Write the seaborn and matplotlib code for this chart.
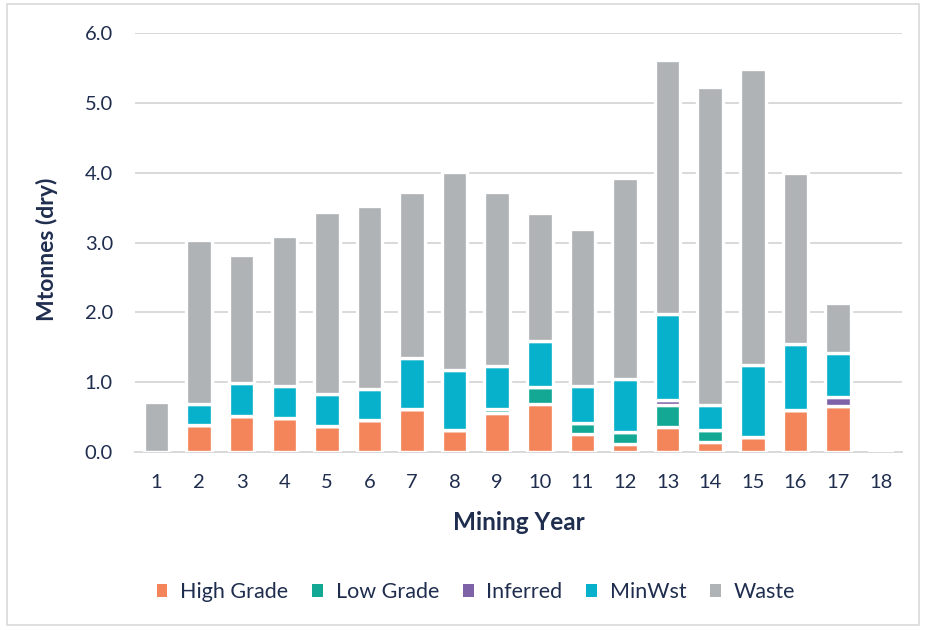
import seaborn as sns
import pandas as pd
import matplotlib.pyplot as plt
from matplotlib.patches import Patch, Rectangle

years = [str(y) for y in range(1, 19)]
high_grade = [0.00, 0.385, 0.52, 0.49, 0.37, 0.455, 0.62, 0.31, 0.555, 0.69, 0.26, 0.12, 0.355, 0.15, 0.21, 0.595, 0.665, 0.0]
low_grade = [0.00, 0.00, 0.00, 0.00, 0.00, 0.00, 0.00, 0.00, 0.065, 0.24, 0.16, 0.16, 0.32, 0.17, 0.00, 0.00, 0.00, 0.0]
inferred = [0.00, 0.00, 0.00, 0.00, 0.00, 0.00, 0.00, 0.00, 0.00, 0.00, 0.00, 0.00, 0.07, 0.00, 0.00, 0.00, 0.13, 0.0]
min_wst = [0.00, 0.305, 0.47, 0.46, 0.46, 0.445, 0.73, 0.86, 0.605, 0.665, 0.52, 0.76, 1.235, 0.35, 1.04, 0.945, 0.625, 0.0]
waste = [0.72, 2.35, 1.83, 2.15, 2.61, 2.62, 2.38, 2.84, 2.505, 1.835, 2.26, 2.88, 3.63, 4.56, 4.24, 2.46, 0.71, 0.0]

series = ["High Grade", "Low Grade", "Inferred", "MinWst", "Waste"]
colors = ["#F4845A", "#12A893", "#7E62A8", "#08B1CB", "#AFB3B6"]
navy = "#1F2D4E"

df = pd.DataFrame({"year": years, "High Grade": high_grade, "Low Grade": low_grade,
                   "Inferred": inferred, "MinWst": min_wst, "Waste": waste})

sns.set_theme(style="white")
plt.rcParams["font.family"] = ["Lato", "DejaVu Sans"]

fig = plt.figure(figsize=(9.26, 6.3), dpi=100)
ax = fig.add_axes([0.146, 0.2825, 0.828, 0.665])

bottom = [0.0] * len(years)
for name, col in zip(series, colors):
    sns.barplot(data=df, x="year", y=name, bottom=bottom, color=col, width=0.6,
                edgecolor="white", linewidth=2.4, saturation=1, ax=ax, zorder=3)
    bottom = [b + v for b, v in zip(bottom, df[name])]

ax.set_ylim(0, 6)
ax.set_xlim(-0.5, 17.5)
ax.set_yticks([0, 1, 2, 3, 4, 5, 6])
ax.set_yticklabels([f"{v:.1f}" for v in range(7)])
ax.yaxis.grid(True, color="#D9D9D9", linewidth=1.4)
ax.set_axisbelow(True)
for s in ["top", "right", "left"]:
    ax.spines[s].set_visible(False)
ax.spines["bottom"].set_color("#D9D9D9")
ax.spines["bottom"].set_linewidth(1.4)

ax.tick_params(axis="x", which="major", length=0, pad=16, labelsize=14.5, labelcolor=navy)
ax.set_xticks([i + 0.5 for i in range(-1, 18)], minor=True)
ax.tick_params(axis="x", which="minor", length=7, width=1.2, color="#D9D9D9", direction="out")
ax.tick_params(axis="y", length=0, pad=16, labelsize=14.5, labelcolor=navy)

ax.set_xlabel("Mining Year", fontsize=17.5, fontweight="bold", color=navy, labelpad=14)
ax.set_ylabel("Mtonnes (dry)", fontsize=16.5, fontweight="bold", color=navy)
ax.yaxis.set_label_coords(-0.101, 0.485)

handles = [Patch(facecolor=c, edgecolor="none") for c in colors]
fig.legend(handles, series, loc="center", bbox_to_anchor=(0.514, 0.06), ncol=5, frameon=False,
           fontsize=15.5, labelcolor=navy, handlelength=0.5, handleheight=0.5,
           handletextpad=0.6, columnspacing=1.1)

fig.patches.append(Rectangle((0.008, 0.008), 0.984, 0.985, transform=fig.transFigure,
                             fill=False, edgecolor="#D9D9D9", linewidth=1.2))

fig.savefig("out.png", dpi=100)
